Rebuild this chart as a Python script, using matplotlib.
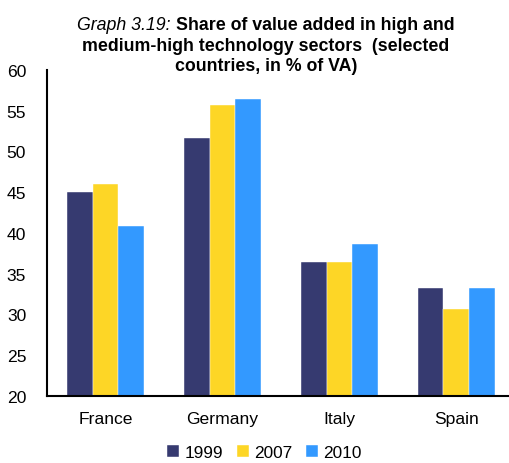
import numpy as np
import matplotlib.pyplot as plt

plt.rcParams['font.family'] = ['Liberation Sans', 'DejaVu Sans']

countries = ['France', 'Germany', 'Italy', 'Spain']
years = ['1999', '2007', '2010']
v1999 = [45.0, 51.7, 36.5, 33.3]
v2007 = [46.0, 55.7, 36.4, 30.7]
v2010 = [40.9, 56.5, 38.6, 33.2]
colors = ['#363A70', '#FDD626', '#3399FF']

fig = plt.figure(figsize=(5.09, 4.64), dpi=100)
ax = fig.add_axes([0.0923, 0.1444, 0.9077, 0.7026])

x = np.arange(len(countries))
w = 0.22
for i, (vals, lab) in enumerate(zip([v1999, v2007, v2010], years)):
    ax.bar(x + (i - 1) * w, vals, w, color=colors[i], label=lab,
           edgecolor='white', linewidth=0.3)

ax.set_ylim(20, 60)
ax.set_xlim(-0.5, 3.45)
ax.set_yticks(range(20, 61, 5))
ax.set_xticks(x)
ax.set_xticklabels(countries)
ax.tick_params(length=0, labelsize=12.6)
ax.tick_params(axis='x', pad=11)
ax.tick_params(axis='y', pad=15)
for s in ['top', 'right']:
    ax.spines[s].set_visible(False)
ax.spines['left'].set_linewidth(1.5)
ax.spines['bottom'].set_linewidth(1.5)

# title: italic prefix + bold text on the first line, centred as a whole
tsize = 12.8
cx = 266 / 509
fig.canvas.draw()
r = fig.canvas.get_renderer()
ta = fig.text(0, 0.964, 'Graph 3.19: ', fontsize=tsize, style='italic', va='top')
tb = fig.text(0, 0.964, 'Share of value added in high and', fontsize=tsize,
              fontweight='bold', va='top')
wa = ta.get_window_extent(r).width / fig.bbox.width
wb = tb.get_window_extent(r).width / fig.bbox.width
x0 = cx - (wa + wb) / 2
ta.set_x(x0)
tb.set_x(x0 + wa)
fig.text(cx, 0.919, 'medium-high technology sectors  (selected', fontsize=tsize,
         ha='center', va='top', fontweight='bold')
fig.text(cx, 0.875, 'countries, in % of VA)', fontsize=tsize,
         ha='center', va='top', fontweight='bold')

fig.legend(loc='lower center', bbox_to_anchor=(0.52, -0.028), ncol=3, frameon=False,
           fontsize=12.4, handlelength=0.7, handleheight=0.7, handletextpad=0.3,
           columnspacing=0.8)

fig.savefig('out.png', dpi=100)
